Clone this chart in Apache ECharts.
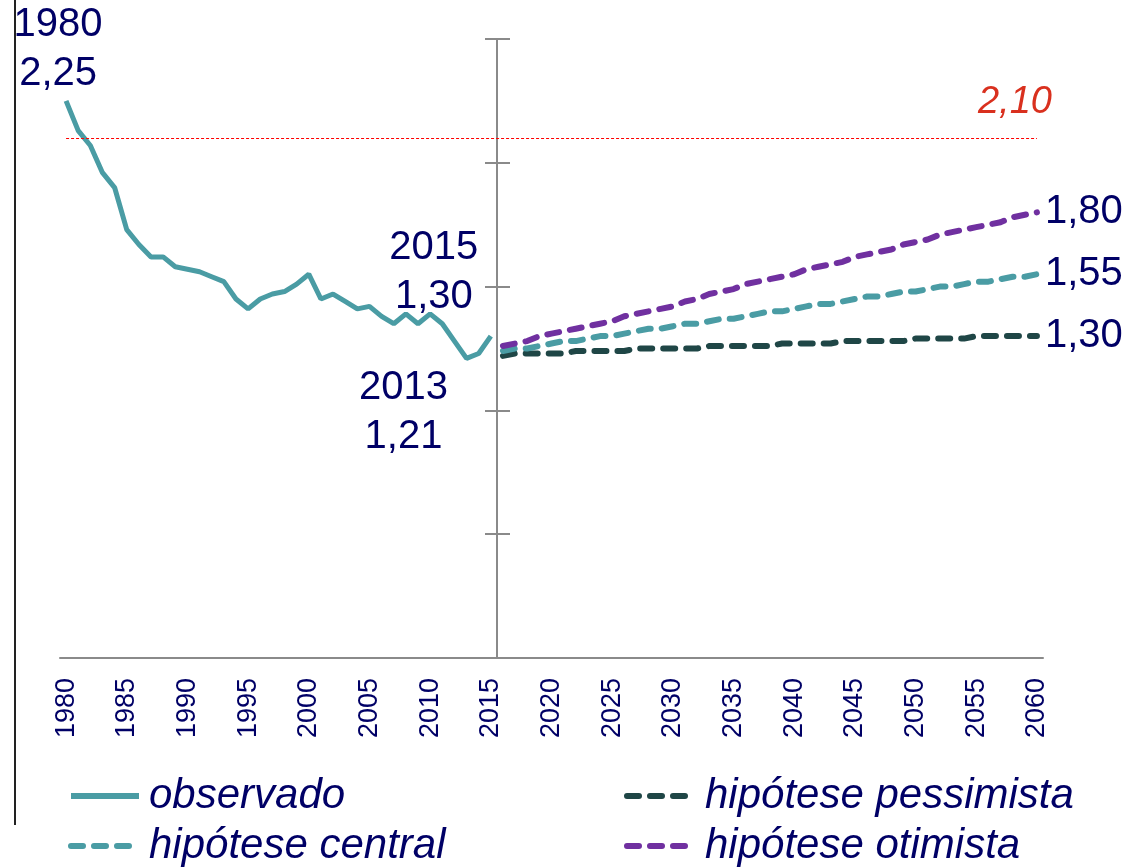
<!DOCTYPE html>
<html>
<head>
<meta charset="utf-8">
<script src="https://cdn.jsdelivr.net/npm/echarts@6/dist/echarts.min.js"></script>
<style>
  html, body { margin: 0; padding: 0; background: #fff; }
  #chart { width: 1140px; height: 867px; }
</style>
</head>
<body>
<div id="chart"></div>
<script>
// anos 1980..2060 (categorias)
const years = []
for (let y = 1980; y <= 2060; y++) years.push(String(y))
const obsYears = years.slice(0, 36)   // 1980-2015
const projYears = years.slice(36)     // 2016-2060

const observado = [2.25, 2.13, 2.07, 1.96, 1.90, 1.73, 1.67, 1.62, 1.62, 1.58,
  1.57, 1.56, 1.54, 1.52, 1.45, 1.41, 1.45, 1.47, 1.48, 1.51,
  1.55, 1.45, 1.47, 1.44, 1.41, 1.42, 1.38, 1.35, 1.39, 1.35,
  1.39, 1.35, 1.28, 1.21, 1.23, 1.30]

const pessimista = [1.22, 1.23, 1.23, 1.23, 1.23, 1.23, 1.24, 1.24, 1.24, 1.24,
  1.24, 1.25, 1.25, 1.25, 1.25, 1.25, 1.25, 1.26, 1.26, 1.26,
  1.26, 1.26, 1.26, 1.27, 1.27, 1.27, 1.27, 1.27, 1.28, 1.28,
  1.28, 1.28, 1.28, 1.28, 1.29, 1.29, 1.29, 1.29, 1.29, 1.30,
  1.30, 1.30, 1.30, 1.30, 1.30]

const central = [1.24, 1.25, 1.25, 1.26, 1.27, 1.28, 1.28, 1.29, 1.30, 1.30,
  1.31, 1.32, 1.33, 1.33, 1.34, 1.35, 1.35, 1.36, 1.37, 1.37,
  1.38, 1.39, 1.40, 1.40, 1.41, 1.42, 1.43, 1.43, 1.44, 1.45,
  1.46, 1.46, 1.47, 1.48, 1.48, 1.49, 1.50, 1.50, 1.51, 1.52,
  1.52, 1.53, 1.54, 1.54, 1.55]

const otimista = [1.26, 1.27, 1.28, 1.30, 1.31, 1.32, 1.33, 1.34, 1.35, 1.36,
  1.38, 1.39, 1.40, 1.41, 1.42, 1.44, 1.45, 1.47, 1.48, 1.49,
  1.51, 1.52, 1.53, 1.54, 1.55, 1.57, 1.58, 1.59, 1.60, 1.62,
  1.63, 1.64, 1.65, 1.67, 1.68, 1.69, 1.71, 1.72, 1.73, 1.74,
  1.75, 1.76, 1.78, 1.79, 1.80]

const replacement = 2.10   // nível de substituição das gerações
const annotatedYears = ['1980', '2013', '2015']

const FONT = '"Liberation Sans", Arial, sans-serif'
const NAVY = '#000066'
const TEAL = '#4a9ca4'
const DARK = '#1f4646'
const PURPLE = '#7030a0'
const GREY = '#8a8a8a'

const fmt = v => v.toFixed(2).replace('.', ',')

// posição das anotações junto dos pontos
const annoLabel = {
  '1980': { position: 'top', distance: 2, offset: [-8, 0] },
  '2013': { position: 'bottom', distance: 5, offset: [-63, 0] },
  '2015': { position: 'top', distance: 5, offset: [-57, -10] }
}

const obsData = observado.map((v, i) => {
  const yr = obsYears[i]
  if (!annotatedYears.includes(yr)) return [yr, v]
  return {
    value: [yr, v],
    label: Object.assign({ show: true, formatter: yr + '\n' + fmt(v) }, annoLabel[yr])
  }
})

function projData(values) {
  return values.map((v, i) => {
    if (i < values.length - 1) return [projYears[i], v]
    return { value: [projYears[i], v], label: { show: true, position: 'right', distance: 8, formatter: fmt(v) } }
  })
}

const labelBase = { show: false, color: NAVY, fontFamily: FONT, fontSize: 40, lineHeight: 49 }
const dash = { type: [12, 11], cap: 'round', width: 6 }

// uma legenda por item (duas colunas, duas linhas)
function legendAt(name, left, top) {
  return {
    left: left, top: top, orient: 'horizontal',
    itemWidth: 68, itemHeight: 14,
    itemStyle: { opacity: 0 },
    lineStyle: { width: 6 },
    textStyle: { color: NAVY, fontFamily: FONT, fontSize: 42, fontStyle: 'italic', padding: [0, 0, 0, 5] },
    data: [name]
  }
}

const chart = echarts.init(document.getElementById('chart'), null, { renderer: 'canvas' })

chart.setOption({
  animation: false,
  backgroundColor: '#fff',
  textStyle: { fontFamily: FONT },
  grid: [
    { left: 60, right: 97, top: 39, bottom: 209 },
    { left: 497, width: 10, top: 39, bottom: 209 }
  ],
  xAxis: [
    {
      type: 'category',
      data: years,
      boundaryGap: true,
      axisLine: { lineStyle: { color: GREY, width: 2 } },
      axisTick: { interval: 0, length: 7, lineStyle: { color: GREY, width: 2 } },
      axisLabel: { interval: 4, rotate: 90, margin: 20, color: NAVY, fontFamily: FONT, fontSize: 27 },
      splitLine: { show: false }
    },
    { type: 'category', gridIndex: 1, data: ['x'], show: false }
  ],
  yAxis: [
    { type: 'value', min: 0, max: 2.5, interval: 0.5, show: false },
    {
      type: 'value', gridIndex: 1, position: 'left', min: 0, max: 2.5, interval: 0.5,
      axisLine: { show: true, lineStyle: { color: GREY, width: 2 } },
      axisTick: { show: true, length: 12, lineStyle: { color: GREY, width: 2 } },
      axisLabel: { show: false }, splitLine: { show: false }
    },
    {
      type: 'value', gridIndex: 1, position: 'left', min: 0, max: 2.5, interval: 0.5,
      axisLine: { show: false },
      axisTick: { show: true, inside: true, length: 13, lineStyle: { color: GREY, width: 2 } },
      axisLabel: { show: false }, splitLine: { show: false }
    }
  ],
  legend: [
    legendAt('observado', 63, 770),
    legendAt('hipótese central', 63, 820),
    legendAt('hipótese pessimista', 619, 770),
    legendAt('hipótese otimista', 619, 820)
  ],
  series: [
    {
      name: 'observado', type: 'line', data: obsData,
      symbol: 'circle', symbolSize: 0, showSymbol: true,
      lineStyle: { color: TEAL, width: 5 }, itemStyle: { color: TEAL },
      label: labelBase,
      emphasis: { disabled: true },
      markLine: {
        silent: true, symbol: ['none', 'none'],
        lineStyle: { color: '#ff0000', width: 1, type: [3, 2] },
        label: {
          show: true, position: 'insideEndTop', formatter: fmt(replacement),
          color: '#d9301e', fontFamily: FONT, fontSize: 38, fontStyle: 'italic', offset: [20, -12]
        },
        data: [[{ coord: [years[0], replacement] }, { coord: [years[years.length - 1], replacement] }]]
      }
    },
    {
      name: 'hipótese pessimista', type: 'line', data: projData(pessimista),
      symbol: 'circle', symbolSize: 0, showSymbol: true,
      lineStyle: Object.assign({ color: DARK }, dash), itemStyle: { color: DARK },
      label: labelBase, emphasis: { disabled: true }
    },
    {
      name: 'hipótese central', type: 'line', data: projData(central),
      symbol: 'circle', symbolSize: 0, showSymbol: true,
      lineStyle: Object.assign({ color: TEAL }, dash), itemStyle: { color: TEAL },
      label: labelBase, emphasis: { disabled: true }
    },
    {
      name: 'hipótese otimista', type: 'line', data: projData(otimista),
      symbol: 'circle', symbolSize: 0, showSymbol: true,
      lineStyle: Object.assign({ color: PURPLE }, dash), itemStyle: { color: PURPLE },
      label: labelBase, emphasis: { disabled: true }
    }
  ],
  graphic: [
    { type: 'line', shape: { x1: 15, y1: 0, x2: 15, y2: 825 }, style: { stroke: '#222', lineWidth: 2 } }
  ]
})
</script>
</body>
</html>
